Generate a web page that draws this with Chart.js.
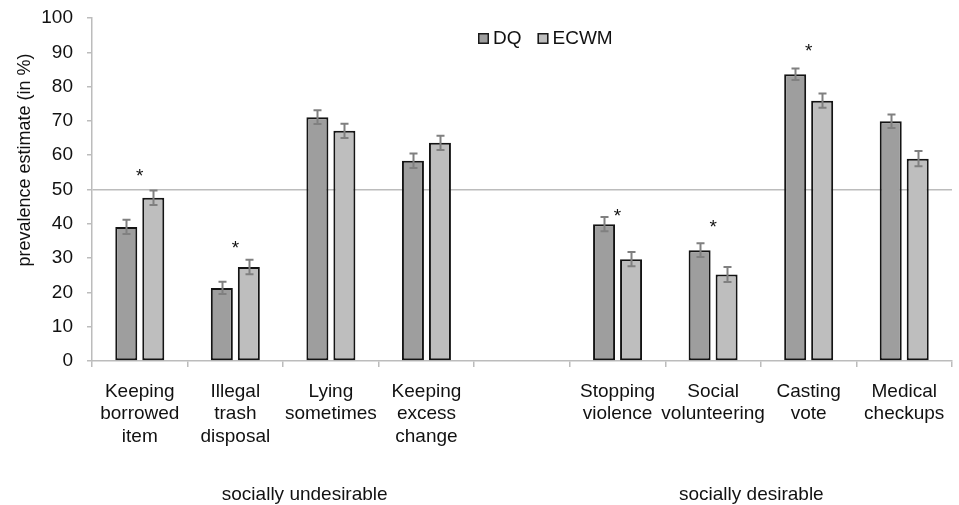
<!DOCTYPE html>
<html>
<head>
<meta charset="utf-8">
<script src="https://cdn.jsdelivr.net/npm/chart.js@4.4.1/dist/chart.umd.min.js"></script>
<style>
  html, body { margin: 0; padding: 0; background: #fff; }
  canvas { display: block; }
</style>
</head>
<body>
<canvas id="chart" width="959" height="505"></canvas>
<script>
// Behaviours, with an empty slot separating the two groups
const categories = [
  ['Keeping', 'borrowed', 'item'],
  ['Illegal', 'trash', 'disposal'],
  ['Lying', 'sometimes'],
  ['Keeping', 'excess', 'change'],
  '',
  ['Stopping', 'violence'],
  ['Social', 'volunteering'],
  ['Casting', 'vote'],
  ['Medical', 'checkups']
];

// Prevalence estimates (in %)
const dqValues   = [39.1, 21.3, 71.1, 58.4, null, 39.9, 32.3, 83.6, 69.9];
const ecwmValues = [47.6, 27.4, 67.1, 63.6, null, 29.7, 25.2, 75.9, 59.0];

// Standard errors
const dqErrors   = [2.1, 1.8, 2.0, 2.1, null, 2.1, 2.0, 1.7, 2.0];
const ecwmErrors = [2.1, 2.1, 2.1, 2.1, null, 2.1, 2.2, 2.1, 2.2];

// Significant DQ vs ECWM difference, and the level at which its asterisk sits
const significant = [true, true, false, false, false, true, true, true, false];
const starLevels  = [55.3, 34.3, null, null, null, 43.5, 40.4, 91.8, null];

const yTicks = [0, 10, 20, 30, 40, 50, 60, 70, 80, 90, 100];

const groupLabels = ['socially undesirable', 'socially desirable'];
const groupCenters = [1.726, 6.40]; // in category-index units

const FONT = '"Liberation Sans", Arial, sans-serif';
const TEXT = '#111111';
const AXIS = '#bcbcbc';

const errorBars = {
  id: 'errorBars',
  afterDatasetsDraw(chart) {
    const y = chart.scales.y;
    const ctx = chart.ctx;
    const errs = [dqErrors, ecwmErrors];
    ctx.save();
    ctx.strokeStyle = '#808080';
    ctx.lineWidth = 2;
    chart.data.datasets.forEach((ds, d) => {
      const meta = chart.getDatasetMeta(d);
      meta.data.forEach((bar, i) => {
        const v = ds.data[i];
        const e = errs[d][i];
        if (v == null || e == null) return;
        const x = Math.round(bar.x) + 0.5;
        const top = y.getPixelForValue(v + e);
        const bot = y.getPixelForValue(v - e);
        ctx.beginPath();
        ctx.moveTo(x, top); ctx.lineTo(x, bot);
        ctx.moveTo(x - 4, top); ctx.lineTo(x + 4, top);
        ctx.moveTo(x - 4, bot); ctx.lineTo(x + 4, bot);
        ctx.stroke();
      });
    });
    ctx.restore();
  }
};

const annotations = {
  id: 'annotations',
  afterDraw(chart) {
    const ctx = chart.ctx;
    const xs = chart.scales.x;
    const ys = chart.scales.y;
    ctx.save();
    ctx.fillStyle = TEXT;

    // asterisks
    ctx.font = '19px ' + FONT;
    ctx.textAlign = 'center';
    ctx.textBaseline = 'alphabetic';
    significant.forEach((s, i) => {
      if (!s) return;
      ctx.fillText('*', xs.getPixelForValue(i), ys.getPixelForValue(starLevels[i]) + 10.5);
    });

    // group labels
    groupLabels.forEach((g, k) => {
      ctx.fillText(g, xs.getPixelForValue(groupCenters[k]), 500);
    });

    // y-axis title
    ctx.save();
    ctx.translate(25.5, 160);
    ctx.rotate(-Math.PI / 2);
    ctx.font = '18px ' + FONT;
    ctx.textBaseline = 'middle';
    ctx.fillText('prevalence estimate (in %)', 0, 0);
    ctx.restore();

    // legend
    ctx.font = '19px ' + FONT;
    ctx.textAlign = 'left';
    let lx = 478;
    chart.data.datasets.forEach((ds) => {
      ctx.fillStyle = ds.backgroundColor;
      ctx.fillRect(lx, 33, 11, 11);
      ctx.strokeStyle = '#1a1a1a';
      ctx.lineWidth = 1.5;
      ctx.strokeRect(lx + 0.75, 33.75, 9.5, 9.5);
      ctx.fillStyle = TEXT;
      ctx.fillText(ds.label, lx + 15, 44);
      lx += 15 + ctx.measureText(ds.label).width + 16;
    });
    ctx.restore();
  }
};

new Chart(document.getElementById('chart'), {
  type: 'bar',
  data: {
    labels: categories,
    datasets: [
      {
        label: 'DQ',
        data: dqValues,
        backgroundColor: '#9e9e9e',
        borderColor: '#141414',
        borderWidth: 2,
        borderSkipped: false,
        categoryPercentage: 0.565,
        barPercentage: 0.815
      },
      {
        label: 'ECWM',
        data: ecwmValues,
        backgroundColor: '#bebebe',
        borderColor: '#141414',
        borderWidth: 2,
        borderSkipped: false,
        categoryPercentage: 0.565,
        barPercentage: 0.815
      }
    ]
  },
  options: {
    responsive: false,
    animation: false,
    devicePixelRatio: 1,
    layout: { padding: { top: 18, right: 7, bottom: 0, left: 0 } },
    plugins: {
      legend: { display: false },
      tooltip: { enabled: false }
    },
    scales: {
      x: {
        offset: true,
        grid: {
          offset: true,
          drawOnChartArea: false,
          color: AXIS,
          tickColor: AXIS,
          tickLength: 6,
          lineWidth: 1.5
        },
        border: { color: AXIS, width: 1.5 },
        ticks: {
          color: TEXT,
          font: { family: FONT, size: 19 },
          maxRotation: 0,
          autoSkip: false,
          padding: 13
        },
        afterFit(scale) { scale.height = 144; }
      },
      y: {
        min: 0,
        max: 100,
        afterBuildTicks(scale) { scale.ticks = yTicks.map(v => ({ value: v })); },
        grid: {
          color: (c) => (c.tick && c.tick.value === 50 ? AXIS : 'rgba(0,0,0,0)'),
          tickColor: AXIS,
          tickLength: 5,
          lineWidth: 1.5
        },
        border: { color: AXIS, width: 1.5 },
        ticks: {
          color: TEXT,
          font: { family: FONT, size: 19 },
          padding: 14
        },
        afterFit(scale) {
          scale.width = 92;
          scale.paddingTop = 0;
          scale.paddingBottom = 0;
        }
      }
    }
  },
  plugins: [errorBars, annotations]
});
</script>
</body>
</html>
